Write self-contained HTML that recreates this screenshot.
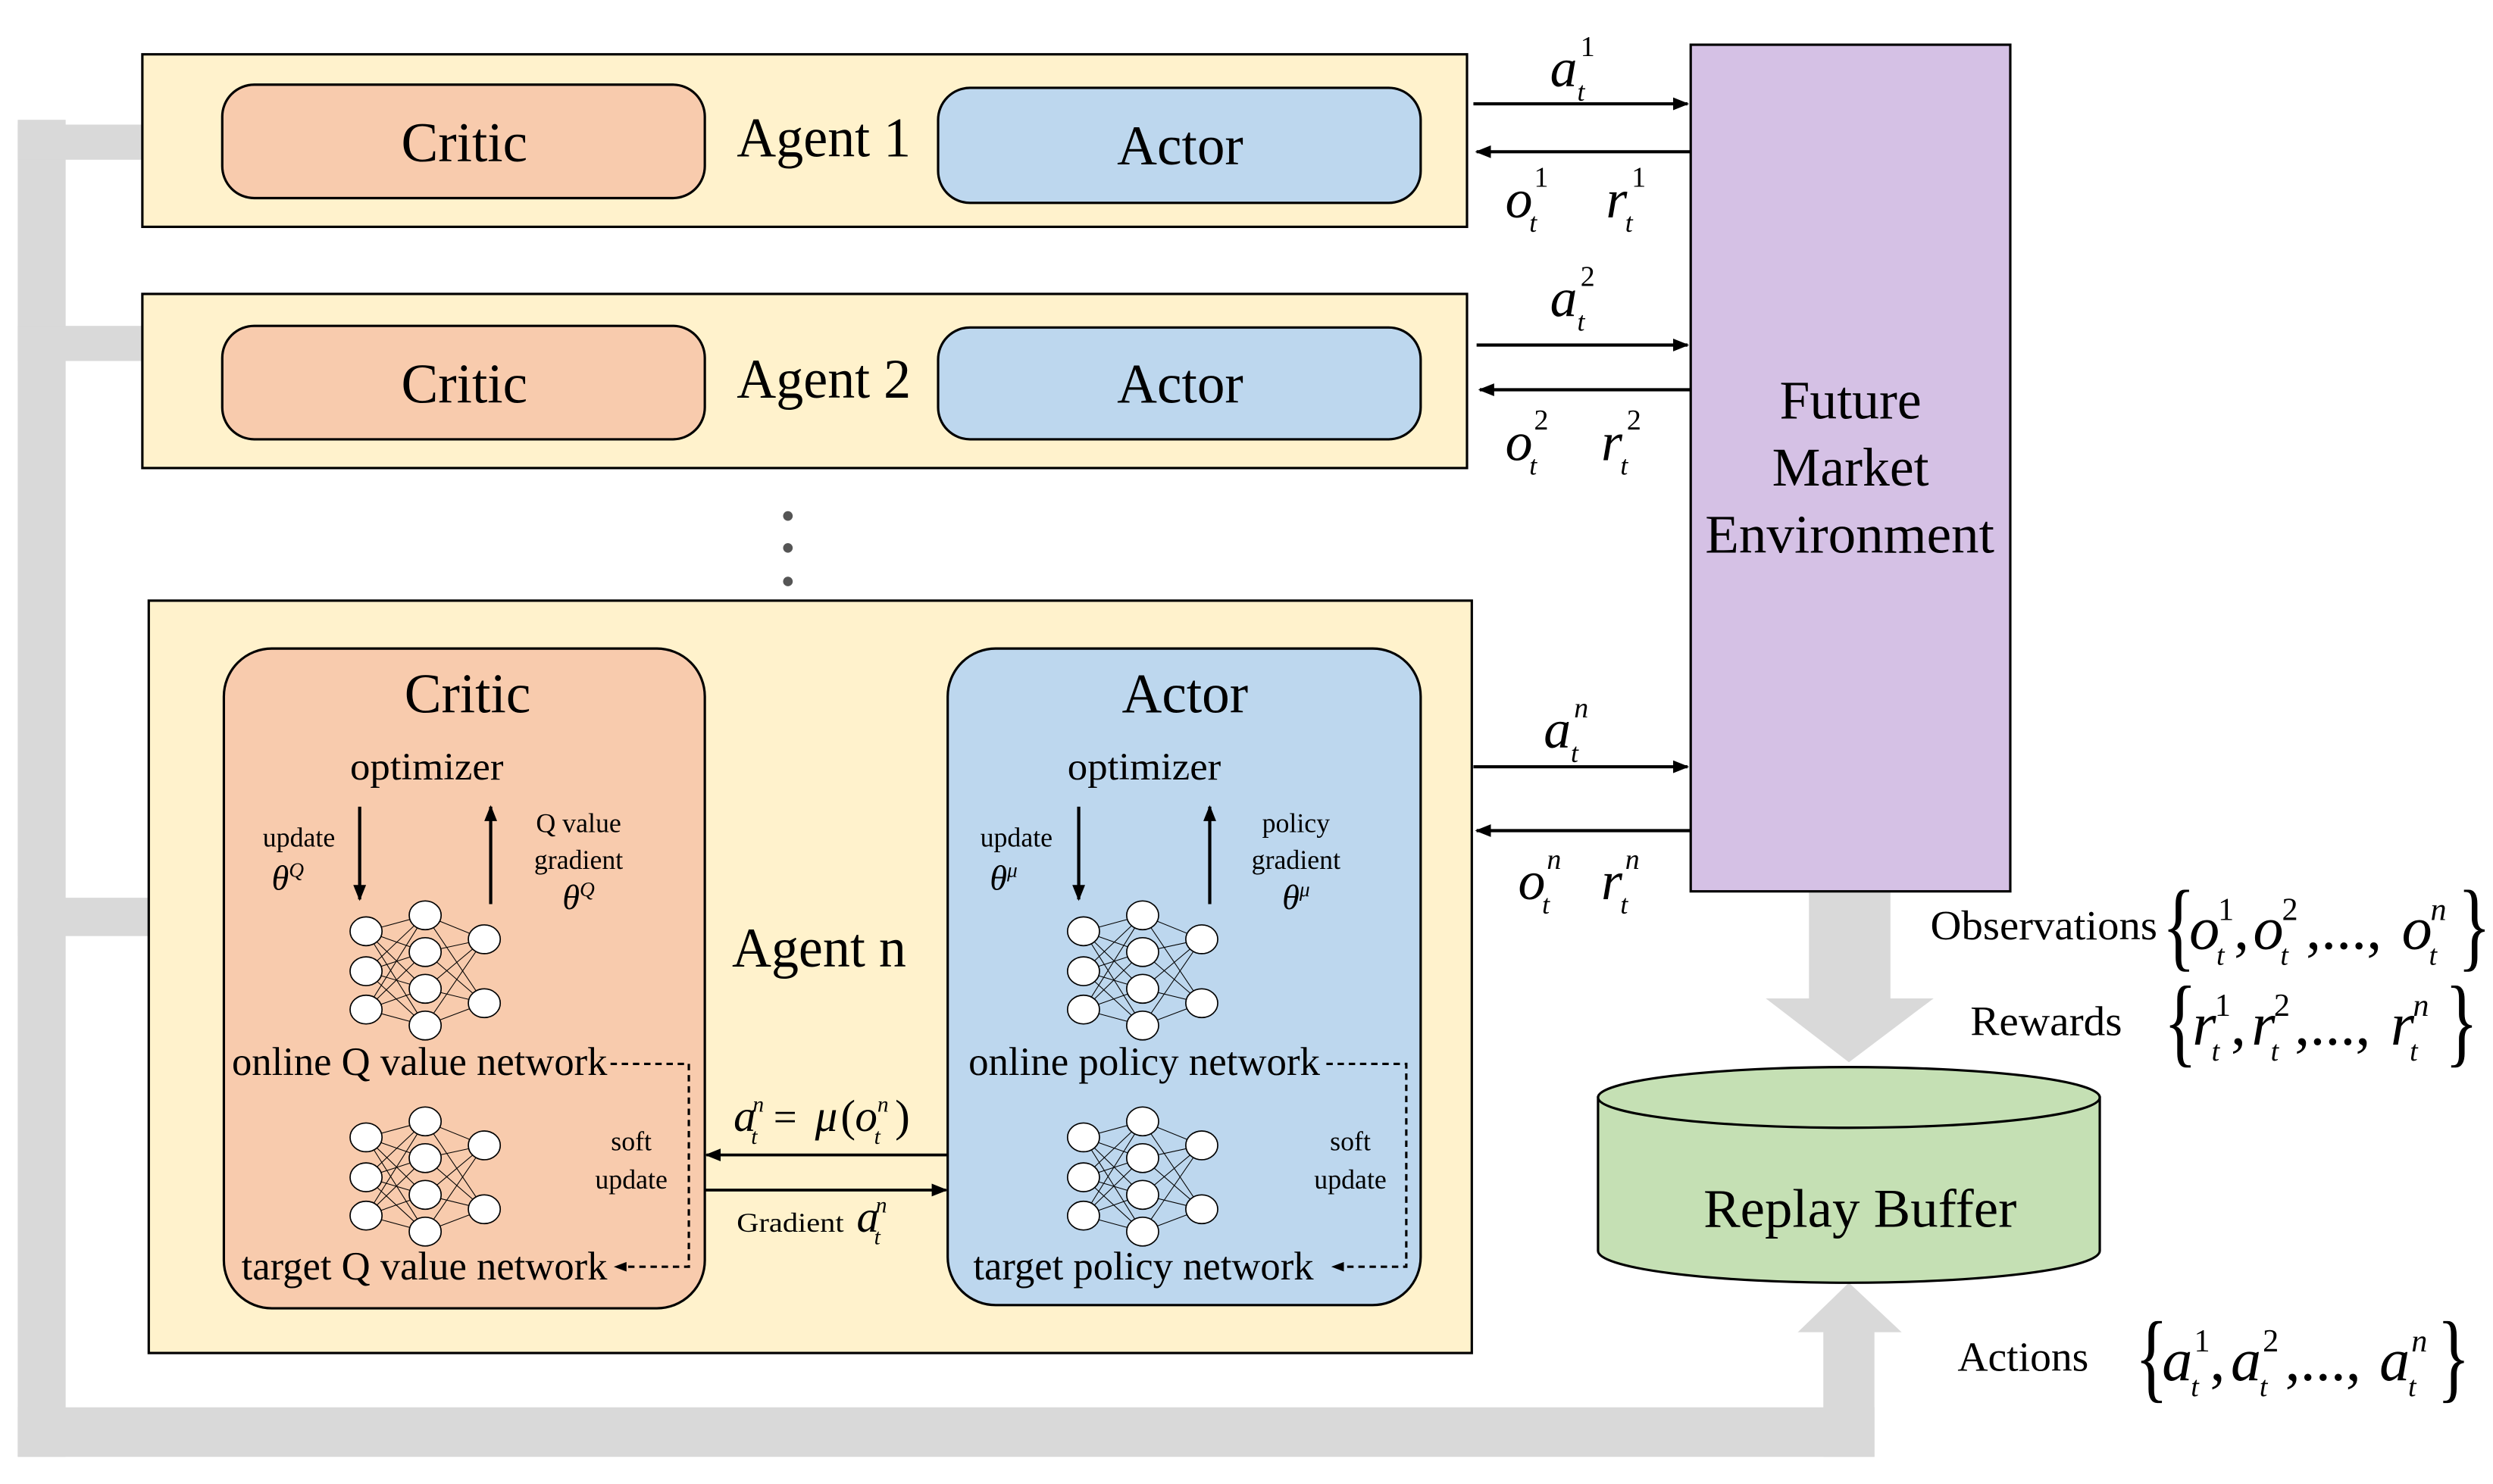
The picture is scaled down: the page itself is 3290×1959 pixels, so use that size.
<!DOCTYPE html>
<html><head><meta charset="utf-8"><style>
html,body{margin:0;padding:0;background:#fff;}
svg{display:block;}
text{font-family:"Liberation Serif",serif;fill:#000;}
.m{font-style:italic;}
</style></head><body>
<svg width="3290" height="1959" viewBox="0 0 1560 929" xmlns="http://www.w3.org/2000/svg">
<defs>
<marker id="ah" markerWidth="10" markerHeight="8" refX="9" refY="4" orient="auto" markerUnits="userSpaceOnUse">
<path d="M0,0 L10,4 L0,8 Z" fill="#000"/></marker>
<marker id="ahs" markerWidth="8" markerHeight="6" refX="7" refY="3" orient="auto" markerUnits="userSpaceOnUse">
<path d="M0,0 L8,3 L0,6 Z" fill="#000"/></marker>
<g id="net">
<g stroke="#000" stroke-width="0.5">
<line x1="0" y1="10" x2="37" y2="0"/><line x1="0" y1="10" x2="37" y2="23"/><line x1="0" y1="10" x2="37" y2="46"/><line x1="0" y1="10" x2="37" y2="69"/>
<line x1="0" y1="35" x2="37" y2="0"/><line x1="0" y1="35" x2="37" y2="23"/><line x1="0" y1="35" x2="37" y2="46"/><line x1="0" y1="35" x2="37" y2="69"/>
<line x1="0" y1="59" x2="37" y2="0"/><line x1="0" y1="59" x2="37" y2="23"/><line x1="0" y1="59" x2="37" y2="46"/><line x1="0" y1="59" x2="37" y2="69"/>
<line x1="37" y1="0" x2="74" y2="15"/><line x1="37" y1="0" x2="74" y2="55"/>
<line x1="37" y1="23" x2="74" y2="15"/><line x1="37" y1="23" x2="74" y2="55"/>
<line x1="37" y1="46" x2="74" y2="15"/><line x1="37" y1="46" x2="74" y2="55"/>
<line x1="37" y1="69" x2="74" y2="15"/><line x1="37" y1="69" x2="74" y2="55"/>
</g>
<g fill="#fff" stroke="#000" stroke-width="0.8">
<ellipse cx="0" cy="10" rx="10" ry="9"/><ellipse cx="0" cy="35" rx="10" ry="9"/><ellipse cx="0" cy="59" rx="10" ry="9"/>
<ellipse cx="37" cy="0" rx="10" ry="9"/><ellipse cx="37" cy="23" rx="10" ry="9"/><ellipse cx="37" cy="46" rx="10" ry="9"/><ellipse cx="37" cy="69" rx="10" ry="9"/>
<ellipse cx="74" cy="15" rx="10" ry="9"/><ellipse cx="74" cy="55" rx="10" ry="9"/>
</g>
</g>
</defs>

<!-- gray bus -->
<g fill="#d9d9d9">
<rect x="11" y="75" width="30" height="837"/>
<rect x="11" y="78" width="78" height="22"/>
<rect x="11" y="204" width="78" height="22"/>
<rect x="11" y="562" width="82" height="24"/>
<rect x="11" y="881" width="1162" height="31"/>
<rect x="1141" y="833" width="32" height="79"/>
<polygon points="1125,834 1157,803 1190,834"/>
<rect x="1132" y="558" width="51" height="68"/>
<polygon points="1105,625 1210,625 1157,665"/>
</g>

<!-- Agent 1 -->
<rect x="89" y="34" width="829" height="108" fill="#fff2cc" stroke="#000" stroke-width="1.5"/>
<rect x="139" y="53" width="302" height="71" rx="20" fill="#f8cbad" stroke="#000" stroke-width="1.5"/>
<rect x="587" y="55" width="302" height="72" rx="20" fill="#bdd7ee" stroke="#000" stroke-width="1.5"/>
<text x="251" y="101" font-size="35" textLength="79" lengthAdjust="spacingAndGlyphs">Critic</text>
<text x="461" y="98" font-size="35" textLength="109" lengthAdjust="spacingAndGlyphs">Agent 1</text>
<text x="699" y="103" font-size="35" textLength="79" lengthAdjust="spacingAndGlyphs">Actor</text>

<!-- Agent 2 -->
<rect x="89" y="184" width="829" height="109" fill="#fff2cc" stroke="#000" stroke-width="1.5"/>
<rect x="139" y="204" width="302" height="71" rx="20" fill="#f8cbad" stroke="#000" stroke-width="1.5"/>
<rect x="587" y="205" width="302" height="70" rx="20" fill="#bdd7ee" stroke="#000" stroke-width="1.5"/>
<text x="251" y="252" font-size="35" textLength="79" lengthAdjust="spacingAndGlyphs">Critic</text>
<text x="461" y="249" font-size="35" textLength="109" lengthAdjust="spacingAndGlyphs">Agent 2</text>
<text x="699" y="252" font-size="35" textLength="79" lengthAdjust="spacingAndGlyphs">Actor</text>

<circle cx="493" cy="323" r="3" fill="#555"/><circle cx="493" cy="343" r="3" fill="#555"/><circle cx="493" cy="364" r="3" fill="#555"/>

<!-- Agent n -->
<rect x="93" y="376" width="828" height="471" fill="#fff2cc" stroke="#000" stroke-width="1.5"/>
<rect x="140" y="406" width="301" height="413" rx="30" fill="#f8cbad" stroke="#000" stroke-width="1.5"/>
<rect x="593" y="406" width="296" height="411" rx="30" fill="#bdd7ee" stroke="#000" stroke-width="1.5"/>
<text x="458" y="605" font-size="35" textLength="109" lengthAdjust="spacingAndGlyphs">Agent n</text>

<!-- Critic internals -->
<text x="253" y="446" font-size="35" textLength="79" lengthAdjust="spacingAndGlyphs">Critic</text>
<text x="219" y="488" font-size="24" textLength="96" lengthAdjust="spacingAndGlyphs">optimizer</text>
<line x1="225" y1="505" x2="225" y2="563" stroke="#000" stroke-width="2" marker-end="url(#ah)"/>
<line x1="307" y1="566" x2="307" y2="505" stroke="#000" stroke-width="2" marker-end="url(#ah)"/>
<text x="187" y="530" font-size="17" text-anchor="middle">update</text>
<text x="180" y="557" font-size="22" text-anchor="middle" class="m">θ<tspan font-size="13" dy="-8">Q</tspan></text>
<text x="362" y="521" font-size="17" text-anchor="middle">Q value</text>
<text x="362" y="544" font-size="17" text-anchor="middle">gradient</text>
<text x="362" y="569" font-size="22" text-anchor="middle" class="m">θ<tspan font-size="13" dy="-8">Q</tspan></text>
<use href="#net" x="229" y="573"/>
<use href="#net" x="229" y="702"/>
<text x="145" y="673" font-size="25" textLength="235" lengthAdjust="spacingAndGlyphs">online Q value network</text>
<text x="151" y="801" font-size="25" textLength="229" lengthAdjust="spacingAndGlyphs">target Q value network</text>
<path d="M382,666 H431 V793 H385" fill="none" stroke="#000" stroke-width="1.5" stroke-dasharray="4,3" marker-end="url(#ahs)"/>
<text x="395" y="720" font-size="17" text-anchor="middle">soft</text>
<text x="395" y="744" font-size="17" text-anchor="middle">update</text>

<!-- Actor internals -->
<text x="702" y="446" font-size="35" textLength="79" lengthAdjust="spacingAndGlyphs">Actor</text>
<text x="668" y="488" font-size="24" textLength="96" lengthAdjust="spacingAndGlyphs">optimizer</text>
<line x1="675" y1="505" x2="675" y2="563" stroke="#000" stroke-width="2" marker-end="url(#ah)"/>
<line x1="757" y1="566" x2="757" y2="505" stroke="#000" stroke-width="2" marker-end="url(#ah)"/>
<text x="636" y="530" font-size="17" text-anchor="middle">update</text>
<text x="628" y="557" font-size="22" text-anchor="middle" class="m">θ<tspan font-size="13" dy="-8">μ</tspan></text>
<text x="811" y="521" font-size="17" text-anchor="middle">policy</text>
<text x="811" y="544" font-size="17" text-anchor="middle">gradient</text>
<text x="811" y="569" font-size="22" text-anchor="middle" class="m">θ<tspan font-size="13" dy="-8">μ</tspan></text>
<use href="#net" x="678" y="573"/>
<use href="#net" x="678" y="702"/>
<text x="606" y="673" font-size="25" textLength="220" lengthAdjust="spacingAndGlyphs">online policy network</text>
<text x="609" y="801" font-size="25" textLength="213" lengthAdjust="spacingAndGlyphs">target policy network</text>
<path d="M830,666 H880 V793 H834" fill="none" stroke="#000" stroke-width="1.5" stroke-dasharray="4,3" marker-end="url(#ahs)"/>
<text x="845" y="720" font-size="17" text-anchor="middle">soft</text>
<text x="845" y="744" font-size="17" text-anchor="middle">update</text>

<!-- middle arrows -->
<text x="459" y="708" font-size="28" class="m">a</text>
<text x="470" y="716" font-size="14" class="m">t</text>
<text x="471" y="696" font-size="14" class="m">n</text>
<text x="484" y="708" font-size="26">=</text>
<text x="510" y="708" font-size="28" class="m">μ</text>
<text x="526" y="708" font-size="28">(</text>
<text x="535" y="708" font-size="28" class="m">o</text>
<text x="547" y="716" font-size="14" class="m">t</text>
<text x="549" y="696" font-size="14" class="m">n</text>
<text x="560" y="708" font-size="28">)</text>
<line x1="593" y1="723" x2="442" y2="723" stroke="#000" stroke-width="1.8" marker-end="url(#ah)"/>
<line x1="441" y1="745" x2="592" y2="745" stroke="#000" stroke-width="1.8" marker-end="url(#ah)"/>
<text x="461" y="771" font-size="17" textLength="67" lengthAdjust="spacingAndGlyphs">Gradient</text>
<text x="536" y="771" font-size="28" class="m">a</text>
<text x="547" y="779" font-size="14" class="m">t</text>
<text x="548" y="759" font-size="14" class="m">n</text>

<!-- Environment -->
<rect x="1058" y="28" width="200" height="530" fill="#d5c1e5" stroke="#000" stroke-width="1.5"/>
<text x="1158" y="262" font-size="34" text-anchor="middle">Future</text>
<text x="1158" y="304" font-size="34" text-anchor="middle">Market</text>
<text x="1067" y="346" font-size="34" textLength="181" lengthAdjust="spacingAndGlyphs">Environment</text>

<!-- env arrows -->
<g stroke="#000" stroke-width="2">
<line x1="922" y1="65" x2="1056" y2="65" marker-end="url(#ah)"/>
<line x1="1058" y1="95" x2="924" y2="95" marker-end="url(#ah)"/>
<line x1="924" y1="216" x2="1056" y2="216" marker-end="url(#ah)"/>
<line x1="1058" y1="244" x2="926" y2="244" marker-end="url(#ah)"/>
<line x1="922" y1="480" x2="1056" y2="480" marker-end="url(#ah)"/>
<line x1="1058" y1="520" x2="924" y2="520" marker-end="url(#ah)"/>
</g>
<g class="m">
<text x="970" y="54" font-size="34">a</text><text x="987" y="63" font-size="17">t</text><text x="989" y="35" font-size="18" font-style="normal">1</text>
<text x="942" y="136" font-size="34">o</text><text x="957" y="145" font-size="17">t</text><text x="960" y="117" font-size="18" font-style="normal">1</text>
<text x="1005" y="136" font-size="34">r</text><text x="1017" y="145" font-size="17">t</text><text x="1021" y="117" font-size="18" font-style="normal">1</text>
<text x="970" y="198" font-size="34">a</text><text x="987" y="207" font-size="17">t</text><text x="989" y="179" font-size="18" font-style="normal">2</text>
<text x="942" y="288" font-size="34">o</text><text x="957" y="297" font-size="17">t</text><text x="960" y="269" font-size="18" font-style="normal">2</text>
<text x="1002" y="288" font-size="34">r</text><text x="1014" y="297" font-size="17">t</text><text x="1018" y="269" font-size="18" font-style="normal">2</text>
<text x="966" y="468" font-size="34">a</text><text x="983" y="477" font-size="17">t</text><text x="985" y="449" font-size="18">n</text>
<text x="950" y="563" font-size="34">o</text><text x="965" y="572" font-size="17">t</text><text x="968" y="544" font-size="18">n</text>
<text x="1002" y="563" font-size="34">r</text><text x="1014" y="572" font-size="17">t</text><text x="1017" y="544" font-size="18">n</text>
</g>

<!-- Replay buffer -->
<path d="M1000,687 V783 A157,20 0 0 0 1314,783 V687 Z" fill="#c5e0b4" stroke="#000" stroke-width="1.5"/>
<ellipse cx="1157" cy="687" rx="157" ry="19" fill="#c5e0b4" stroke="#000" stroke-width="1.5"/>
<text x="1066" y="768" font-size="34" textLength="196" lengthAdjust="spacingAndGlyphs">Replay Buffer</text>

<!-- sets -->
<text x="1208" y="588" font-size="26" textLength="142" lengthAdjust="spacingAndGlyphs">Observations</text>
<text x="1233" y="648" font-size="26" textLength="95" lengthAdjust="spacingAndGlyphs">Rewards</text>
<text x="1225" y="858" font-size="26" textLength="82" lengthAdjust="spacingAndGlyphs">Actions</text>

<!-- Observations set -->
<g>
<text x="1353" y="600" font-size="62" transform="translate(1353,600) scale(0.7,1) translate(-1353,-600)">{</text>
<text x="1370" y="594" font-size="38" class="m">o</text><text x="1387" y="604" font-size="18" class="m">t</text><text x="1388" y="576" font-size="20">1</text>
<text x="1398" y="594" font-size="38">,</text>
<text x="1410" y="594" font-size="38" class="m">o</text><text x="1427" y="604" font-size="18" class="m">t</text><text x="1428" y="576" font-size="20">2</text>
<text x="1443" y="594" font-size="38">,...,</text>
<text x="1503" y="594" font-size="38" class="m">o</text><text x="1520" y="604" font-size="18" class="m">t</text><text x="1521" y="576" font-size="20" class="m">n</text>
<text x="1538" y="600" font-size="62" transform="translate(1538,600) scale(0.7,1) translate(-1538,-600)">}</text>
</g>
<!-- Rewards set -->
<g>
<text x="1354" y="660" font-size="62" transform="translate(1354,660) scale(0.7,1) translate(-1354,-660)">{</text>
<text x="1372" y="654" font-size="38" class="m">r</text><text x="1384" y="664" font-size="18" class="m">t</text><text x="1386" y="636" font-size="20">1</text>
<text x="1396" y="654" font-size="38">,</text>
<text x="1409" y="654" font-size="38" class="m">r</text><text x="1421" y="664" font-size="18" class="m">t</text><text x="1423" y="636" font-size="20">2</text>
<text x="1436" y="654" font-size="38">,...,</text>
<text x="1496" y="654" font-size="38" class="m">r</text><text x="1508" y="664" font-size="18" class="m">t</text><text x="1510" y="636" font-size="20" class="m">n</text>
<text x="1530" y="660" font-size="62" transform="translate(1530,660) scale(0.7,1) translate(-1530,-660)">}</text>
</g>
<!-- Actions set -->
<g>
<text x="1336" y="870" font-size="62" transform="translate(1336,870) scale(0.7,1) translate(-1336,-870)">{</text>
<text x="1353" y="864" font-size="38" class="m">a</text><text x="1371" y="874" font-size="18" class="m">t</text><text x="1373" y="846" font-size="20">1</text>
<text x="1383" y="864" font-size="38">,</text>
<text x="1396" y="864" font-size="38" class="m">a</text><text x="1414" y="874" font-size="18" class="m">t</text><text x="1416" y="846" font-size="20">2</text>
<text x="1430" y="864" font-size="38">,...,</text>
<text x="1489" y="864" font-size="38" class="m">a</text><text x="1507" y="874" font-size="18" class="m">t</text><text x="1509" y="846" font-size="20" class="m">n</text>
<text x="1525" y="870" font-size="62" transform="translate(1525,870) scale(0.7,1) translate(-1525,-870)">}</text>
</g>
</svg>
</body></html>
